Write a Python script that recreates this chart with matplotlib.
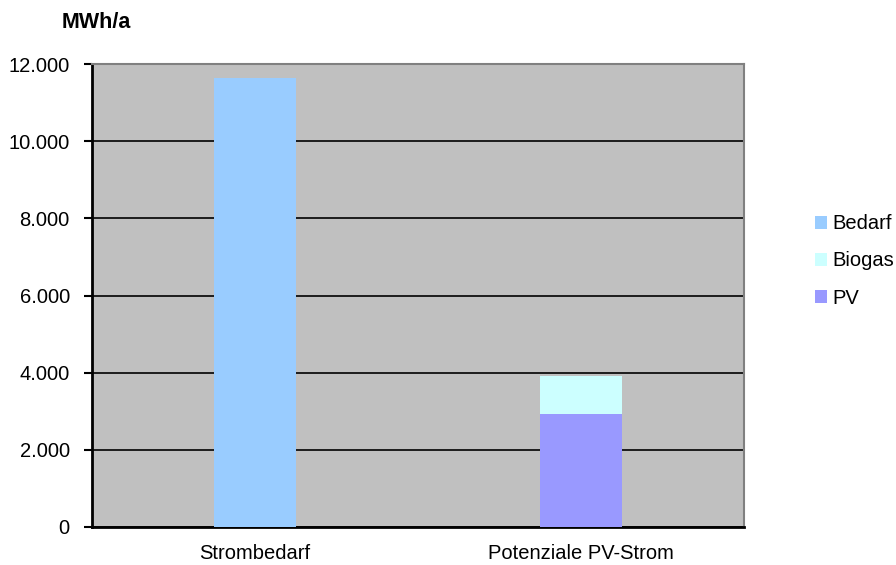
import matplotlib.pyplot as plt
import numpy as np
from matplotlib.ticker import FuncFormatter

plt.rcParams['font.family'] = ['Liberation Sans', 'DejaVu Sans']

# Strombilanz in MWh/a
categories = ['Strombedarf', 'Potenziale PV-Strom']
bedarf = [11650, 0]
pv = [0, 2940]
biogas = [0, 980]

fig = plt.figure(figsize=(8.96, 5.65), dpi=100)
ax = fig.add_axes([92 / 896, 38 / 565, 652 / 896, 463 / 565])
ax.set_facecolor('#C0C0C0')

x = np.arange(len(categories))
w = 0.25
b1 = ax.bar(x, bedarf, w, color='#99CCFF', label='Bedarf', zorder=3)
b3 = ax.bar(x, pv, w, color='#9999FF', label='PV', zorder=3)
b2 = ax.bar(x, biogas, w, bottom=pv, color='#CCFFFF', label='Biogas', zorder=3)

ax.set_xlim(-0.5, 1.5)
ax.set_ylim(0, 12000)
ax.set_yticks(np.arange(0, 12001, 2000))
ax.yaxis.set_major_formatter(FuncFormatter(lambda v, p: f'{int(v):,}'.replace(',', '.')))
ax.grid(axis='y', color='black', linewidth=1.2, zorder=1)
ax.set_xticks(x)
ax.set_xticklabels(categories)
ax.tick_params(axis='x', length=0, pad=12, labelsize=14.5)
ax.tick_params(axis='y', length=6, width=1.5, pad=10, labelsize=14.5)

for side in ['top', 'right']:
    ax.spines[side].set_color('#808080')
    ax.spines[side].set_linewidth(1.5)
for side in ['left', 'bottom']:
    ax.spines[side].set_color('black')
    ax.spines[side].set_linewidth(2)

fig.text(62 / 896, 1 - 22 / 565, 'MWh/a', fontsize=15.5, fontweight='bold', va='center', ha='left')

fig.legend(handles=[b1, b2, b3], labels=['Bedarf', 'Biogas', 'PV'],
           loc='center left', bbox_to_anchor=(815 / 896, 1 - 261 / 565),
           frameon=False, fontsize=14.5, borderpad=0, borderaxespad=0,
           handlelength=0.6, handleheight=0.6, handletextpad=0.25,
           labelspacing=0.9)

fig.savefig('out.png', dpi=100)
